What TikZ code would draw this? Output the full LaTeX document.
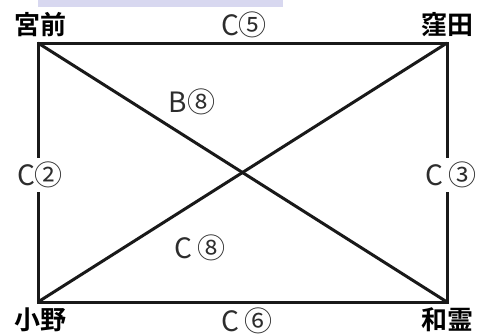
\documentclass[tikz,border=0pt]{standalone}
\usepackage{fontspec}
\setmainfont{Noto Sans CJK JP}
\newfontfamily\jpbold{Noto Sans CJK JP Bold}
\definecolor{band}{RGB}{216,216,240}
\definecolor{edgetext}{RGB}{45,45,45}
\begin{document}
\begin{tikzpicture}[x=1pt,y=-1pt,
  place/.style={font=\jpbold\fontsize{26}{26}\selectfont, inner sep=0pt, text=black},
  elabel/.style={font=\fontsize{28}{28}\selectfont, inner sep=1pt, text=edgetext},
  link/.style={line width=3pt, draw=black!90},
]
\useasboundingbox (0,0) rectangle (480,335);
\fill[band] (38,0) rectangle (283,7);
\coordinate (MM) at (38,43);
\coordinate (KB) at (447,43);
\coordinate (ON) at (38,302);
\coordinate (WR) at (447,302);
\draw[link, line join=miter] (MM) -- (KB) -- (WR) -- (ON) -- cycle;
\draw[link] (MM) -- (WR);
\draw[link] (ON) -- (KB);
\node[place] (miyamae) at (40,25) {宮前};
\node[place] (kubota) at (447,25) {窪田};
\node[place] (ono) at (41,320) {小野};
\node[place] (warei) at (447,320) {和霊};
\node[elabel] (ltop) at (244,25) {C⑤};
\node[elabel, fill=white, inner ysep=4pt] (lleft) at (40,175) {C②};
\node[elabel, fill=white, inner ysep=4pt] (lright) at (451,175) {C\,③};
\node[elabel] (lbot) at (247,321) {C\,⑥};
\node[elabel] (lb8) at (192,102) {B⑧};
\node[elabel] (lc8) at (200,248) {C\,⑧};
\end{tikzpicture}
\end{document}
